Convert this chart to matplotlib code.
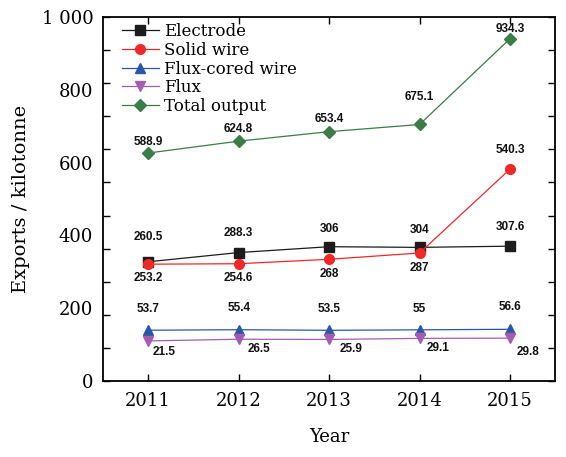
import matplotlib
matplotlib.use("Agg")
import matplotlib.pyplot as plt
from matplotlib.ticker import FixedLocator, NullFormatter

years = [2011, 2012, 2013, 2014, 2015]
electrode = [260.5, 288.3, 306, 304, 307.6]
solid_wire = [253.2, 254.6, 268, 287, 540.3]
flux_cored = [53.7, 55.4, 53.5, 55, 56.6]
flux = [21.5, 26.5, 25.9, 29.1, 29.8]
total = [588.9, 624.8, 653.4, 675.1, 934.3]

y_labels = ["0", "200", "400", "600", "800", "1 000"]

series = [
    ("Electrode", electrode, "#1c1c1c", "s"),
    ("Solid wire", solid_wire, "#f02828", "o"),
    ("Flux-cored wire", flux_cored, "#2a58a8", "^"),
    ("Flux", flux, "#a45cb0", "v"),
    ("Total output", total, "#3a7d46", "D"),
]

# label offsets in pixels for each series / year
offsets = {
    "Electrode": [(0, 25), (0, 20), (0, 18), (0, 17), (0, 19)],
    "Solid wire": [(0, -14), (0, -14), (0, -15), (0, -15), (0, 19)],
    "Flux-cored wire": [(0, 21), (0, 22), (0, 21), (0, 21), (0, 22)],
    "Flux": [(16, -11), (20, -10), (22, -10), (18, -10), (18, -14)],
    "Total output": [(0, 11), (0, 12), (0, 13), (0, 27), (0, 10)],
}

fig = plt.figure(figsize=(5.66, 4.57), dpi=100)
ax = fig.add_axes([0.182, 0.166, 0.799, 0.797])

serif = ["DejaVu Serif"]

for name, vals, col, mk in series:
    ax.plot(years, vals, color=col, marker=mk, markersize=7 if mk != "D" else 6,
            linewidth=0.9, label=name)
    for x, v, off in zip(years, vals, offsets[name]):
        txt = f"{v:g}"
        ax.annotate(txt, xy=(x, v), xytext=off, textcoords="offset pixels",
                    ha="center", va="center", fontsize=8.5, fontweight="bold",
                    family="Liberation Sans", color="#111111")

ax.set_xlim(2010.5, 2015.5)
ax.set_ylim(-100, 1000)

ax.set_xticks(years)
ax.set_xticklabels([str(y) for y in years], family=serif, fontsize=13)

# tick marks every 100, labels spread evenly over the axis height
ax.yaxis.remove_overlapping_locs = False
ax.yaxis.set_major_locator(FixedLocator(list(range(-100, 1001, 100))))
ax.yaxis.set_major_formatter(NullFormatter())
label_pos = [-100 + k * 220 for k in range(6)]
ax.set_yticks(label_pos, minor=True)
ax.set_yticklabels(y_labels, minor=True, family=serif, fontsize=13)

ax.tick_params(axis="both", which="major", direction="in", length=5, width=1,
               top=True, right=True)
ax.tick_params(axis="y", which="minor", length=0, pad=7)
ax.tick_params(axis="x", pad=8)

for s in ax.spines.values():
    s.set_linewidth(1.3)

ax.set_xlabel("Year", family=serif, fontsize=13, labelpad=13)
ax.set_ylabel("Exports / kilotonne", family=serif, fontsize=14, labelpad=8)

leg = ax.legend(loc="upper left", frameon=False, prop={"family": serif, "size": 12},
                handlelength=2.2, labelspacing=0.1, borderaxespad=0.2,
                handletextpad=0.3, bbox_to_anchor=(0.02, 1.01))

fig.savefig("out.png", dpi=100)
